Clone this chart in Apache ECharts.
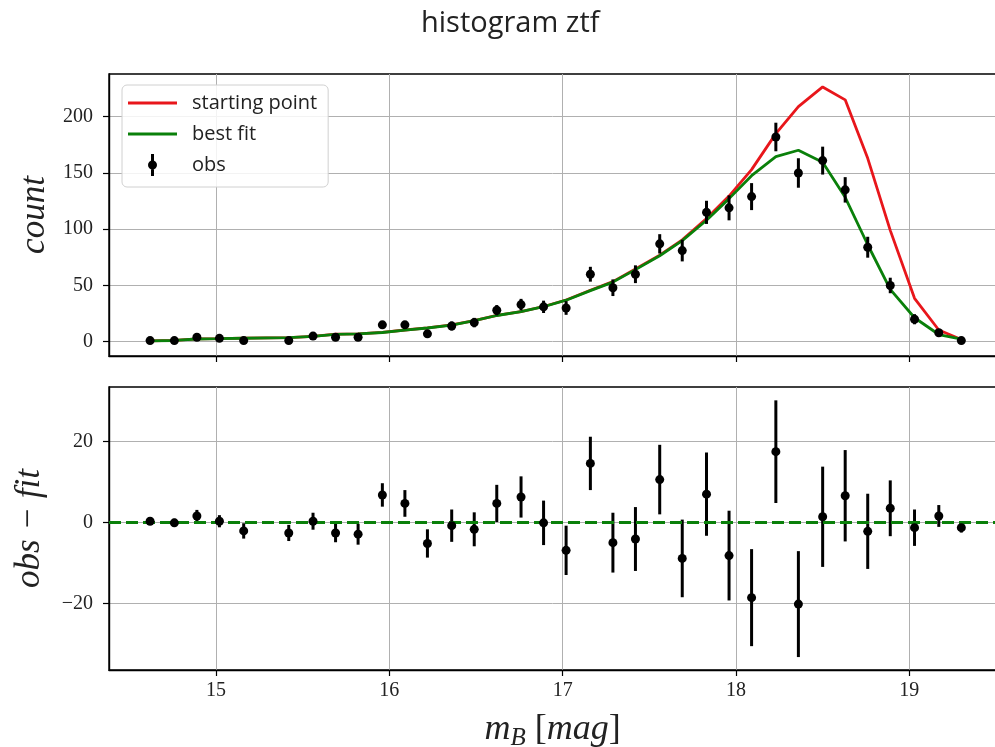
<!DOCTYPE html>
<html>
<head>
	<meta charset="utf-8" />
	<title>histogram ztf</title>
	<script src="https://cdn.jsdelivr.net/npm/echarts@6/dist/echarts.min.js"></script>
	<style>
		body { margin: 0; padding: 0; background: #fff; }
		#main { width: 995px; height: 747px; }
	</style>
</head>
<body>
	<div id="main"></div>
	<script type="text/javascript">
		// bin centres (m_B)
		var mag = [14.62, 14.76, 14.89, 15.02, 15.16, 15.42, 15.56, 15.69, 15.82, 15.96,
			16.09, 16.22, 16.36, 16.49, 16.62, 16.76, 16.89, 17.02, 17.16, 17.29,
			17.42, 17.56, 17.69, 17.83, 17.96, 18.09, 18.23, 18.36, 18.50, 18.63,
			18.76, 18.89, 19.03, 19.17, 19.30]
		// observed counts
		var obs = [1, 1, 4, 3, 1, 1, 5, 4, 4, 15,
			15, 7, 14, 17, 28, 33, 31, 30, 60, 48,
			60, 87, 81, 115, 119, 129, 182, 150, 161, 135,
			84, 50, 20, 8, 1]
		// error bars
		var err = [0.9, 1.0, 1.5, 1.5, 1.9, 2.0, 2.1, 2.3, 2.6, 2.9,
			3.3, 3.5, 4.0, 4.2, 4.6, 5.1, 5.5, 6.1, 6.6, 7.4,
			7.9, 8.6, 9.6, 10.3, 11.1, 12.0, 12.7, 13.1, 12.4, 11.3,
			9.3, 6.9, 4.5, 2.7, 1.2]
		var bestFit = [0.7, 1.1, 2.4, 2.7, 3.1, 3.6, 4.7, 6.6, 6.9, 8.2,
			10.3, 12.2, 14.8, 18.7, 23.3, 26.7, 31.1, 36.9, 45.4, 53.0,
			64.1, 76.4, 89.9, 108.0, 127.2, 147.6, 164.5, 170.2, 159.6, 128.4,
			86.2, 46.5, 21.3, 6.4, 2.3]
		var startPoint = [0.8, 1.2, 2.5, 2.8, 3.2, 3.7, 4.8, 6.7, 7.0, 8.3,
			10.4, 12.3, 14.9, 18.8, 23.4, 26.8, 31.3, 37.1, 45.7, 53.4,
			64.6, 77.0, 90.6, 109.5, 129.5, 153.0, 185.0, 209.0, 226.5, 215.0,
			163.0, 99.0, 38.6, 10.4, 2.0]
		// obs - fit
		var resid = [0.3, -0.1, 1.6, 0.3, -2.1, -2.6, 0.3, -2.6, -2.9, 6.8,
			4.7, -5.2, -0.8, -1.7, 4.7, 6.3, -0.1, -6.9, 14.6, -5.0,
			-4.1, 10.6, -8.9, 7.0, -8.2, -18.6, 17.5, -20.2, 1.4, 6.6,
			-2.2, 3.5, -1.3, 1.6, -1.3]

		var xTicks = [15, 16, 17, 18, 19]
		var countTicks = [0, 50, 100, 150, 200]
		var residTicks = [-20, 0, 20]

		function pairs(xs, ys) {
			var out = []
			for(let i = 0; i < xs.length; i++) out.push([xs[i], ys[i]])
			return out
		}
		function bars(xs, ys, es) {
			var out = []
			for(let i = 0; i < xs.length; i++) out.push([xs[i], ys[i] - es[i], ys[i] + es[i]])
			return out
		}
		function renderBar(params, api) {
			var p1 = api.coord([api.value(0), api.value(1)])
			var p2 = api.coord([api.value(0), api.value(2)])
			return {
				type: 'line',
				shape: { x1: p1[0], y1: p1[1], x2: p2[0], y2: p2[1] },
				style: { stroke: '#000', lineWidth: 3 }
			}
		}

		var tickFont = { fontFamily: 'Liberation Serif', fontSize: 20, color: '#222' }
		var gridLine = { show: true, lineStyle: { color: '#b0b0b0', width: 1 } }
		var blackLine = { show: true, onZero: false, lineStyle: { color: '#000', width: 1.4 } }
		// legend icons drawn in a 49x22 box (the leading moves fix the box size)
		var obsIcon = 'path://M0,0 M49,22 M23,0 L26,0 L26,22 L23,22 Z M20,11 A4.5,4.5 0 1 1 29,11 A4.5,4.5 0 1 1 20,11 Z'
		var lineIcon = 'path://M0,0 M49,22 M0,9.6 L49,9.6 L49,12.4 L0,12.4 Z'

		var mychart = echarts.init(document.getElementById('main'))
		mychart.setOption({
			animation: false,
			title: {
				text: 'histogram ztf',
				left: 416,
				top: 4,
				textStyle: { fontFamily: 'Open Sans', fontSize: 29, fontWeight: 'normal', color: '#222' }
			},
			legend: {
				left: 122,
				top: 85,
				orient: 'vertical',
				itemWidth: 49,
				itemHeight: 22,
				itemGap: 9,
				padding: [7, 11, 11, 6],
				backgroundColor: 'rgba(255,255,255,0.85)',
				borderColor: '#d0d0d0',
				borderWidth: 1,
				borderRadius: 5,
				textStyle: { fontFamily: 'Open Sans', fontSize: 20, color: '#222', padding: [0, 0, 0, 10] },
				data: [
					{ name: 'starting point', icon: lineIcon },
					{ name: 'best fit', icon: lineIcon },
					{ name: 'obs', icon: obsIcon }
				]
			},
			grid: [
				{ left: 109, top: 74, width: 887, height: 282, show: true, borderColor: '#000', borderWidth: 1.4, outerBoundsMode: 'none', containLabel: false },
				{ left: 109, top: 387, width: 887, height: 283, show: true, borderColor: '#000', borderWidth: 1.4, outerBoundsMode: 'none', containLabel: false }
			],
			xAxis: [{
				gridIndex: 0,
				type: 'value',
				min: 14.383,
				max: 19.5,
				splitNumber: 5,
				axisLine: blackLine,
				axisTick: { show: true, length: 6, customValues: xTicks, lineStyle: { color: '#000', width: 1.2 } },
				axisLabel: { show: false },
				splitLine: gridLine
			}, {
				gridIndex: 1,
				type: 'value',
				min: 14.383,
				max: 19.5,
				splitNumber: 5,
				axisLine: blackLine,
				axisTick: { show: true, length: 6, customValues: xTicks, lineStyle: { color: '#000', width: 1.2 } },
				axisLabel: Object.assign({ customValues: xTicks, margin: 11 }, tickFont),
				splitLine: gridLine,
				name: '{i|m}{s|B}{r| [}{i|mag}{r|]}',
				nameLocation: 'middle',
				nameGap: 39,
				nameTextStyle: {
					rich: {
						i: { fontFamily: 'Liberation Serif', fontStyle: 'italic', fontSize: 36, color: '#222' },
						s: { fontFamily: 'Liberation Serif', fontStyle: 'italic', fontSize: 25, color: '#222', padding: [17, 0, 0, 0] },
						r: { fontFamily: 'Liberation Serif', fontSize: 36, color: '#222' }
					}
				}
			}],
			yAxis: [{
				gridIndex: 0,
				type: 'value',
				min: -12.7,
				max: 238,
				splitNumber: 5,
				axisLine: blackLine,
				axisTick: { show: true, length: 6, customValues: countTicks, lineStyle: { color: '#000', width: 1.2 } },
				axisLabel: Object.assign({ customValues: countTicks, margin: 16 }, tickFont),
				splitLine: gridLine,
				name: 'count',
				nameLocation: 'middle',
				nameRotate: 90,
				nameGap: 57,
				nameTextStyle: { fontFamily: 'Liberation Serif', fontStyle: 'italic', fontSize: 35, color: '#222' }
			}, {
				gridIndex: 1,
				type: 'value',
				min: -36.5,
				max: 33.5,
				splitNumber: 3,
				axisLine: blackLine,
				axisTick: { show: true, length: 6, customValues: residTicks, lineStyle: { color: '#000', width: 1.2 } },
				axisLabel: Object.assign({
					customValues: residTicks,
					margin: 16,
					formatter: function(v) { return String(v).replace('-', '\u2212') }
				}, tickFont),
				splitLine: gridLine,
				name: 'obs \u2212 fit',
				nameLocation: 'middle',
				nameRotate: 90,
				nameGap: 62,
				nameTextStyle: { fontFamily: 'Liberation Serif', fontStyle: 'italic', fontSize: 35, color: '#222' }
			}],
			series: [{
				name: 'starting point',
				type: 'line',
				xAxisIndex: 0,
				yAxisIndex: 0,
				data: pairs(mag, startPoint),
				symbol: 'none',
				showSymbol: false,
				lineStyle: { color: '#e8161b', width: 2.8 },
				itemStyle: { color: '#e8161b' },
				z: 2
			}, {
				name: 'best fit',
				type: 'line',
				xAxisIndex: 0,
				yAxisIndex: 0,
				data: pairs(mag, bestFit),
				symbol: 'none',
				showSymbol: false,
				lineStyle: { color: '#0a800a', width: 2.8 },
				itemStyle: { color: '#0a800a' },
				z: 3
			}, {
				name: 'obs',
				type: 'custom',
				xAxisIndex: 0,
				yAxisIndex: 0,
				renderItem: renderBar,
				encode: { x: 0, y: [1, 2] },
				itemStyle: { color: '#000' },
				data: bars(mag, obs, err),
				z: 4
			}, {
				name: 'obs',
				type: 'scatter',
				xAxisIndex: 0,
				yAxisIndex: 0,
				symbolSize: 9,
				itemStyle: { color: '#000', opacity: 1 },
				data: pairs(mag, obs),
				z: 5
			}, {
				name: 'obs',
				type: 'custom',
				xAxisIndex: 1,
				yAxisIndex: 1,
				renderItem: renderBar,
				encode: { x: 0, y: [1, 2] },
				itemStyle: { color: '#000' },
				data: bars(mag, resid, err),
				z: 4
			}, {
				name: 'obs',
				type: 'scatter',
				xAxisIndex: 1,
				yAxisIndex: 1,
				symbolSize: 9,
				itemStyle: { color: '#000', opacity: 1 },
				data: pairs(mag, resid),
				z: 5
			}, {
				name: 'zero',
				type: 'line',
				xAxisIndex: 1,
				yAxisIndex: 1,
				data: [],
				z: 6,
				markLine: {
					silent: true,
					symbol: ['none', 'none'],
					label: { show: false },
					lineStyle: { color: '#0a800a', type: [12, 5], width: 3 },
					data: [{ yAxis: 0 }]
				}
			}]
		})
	</script>
</body>
</html>
